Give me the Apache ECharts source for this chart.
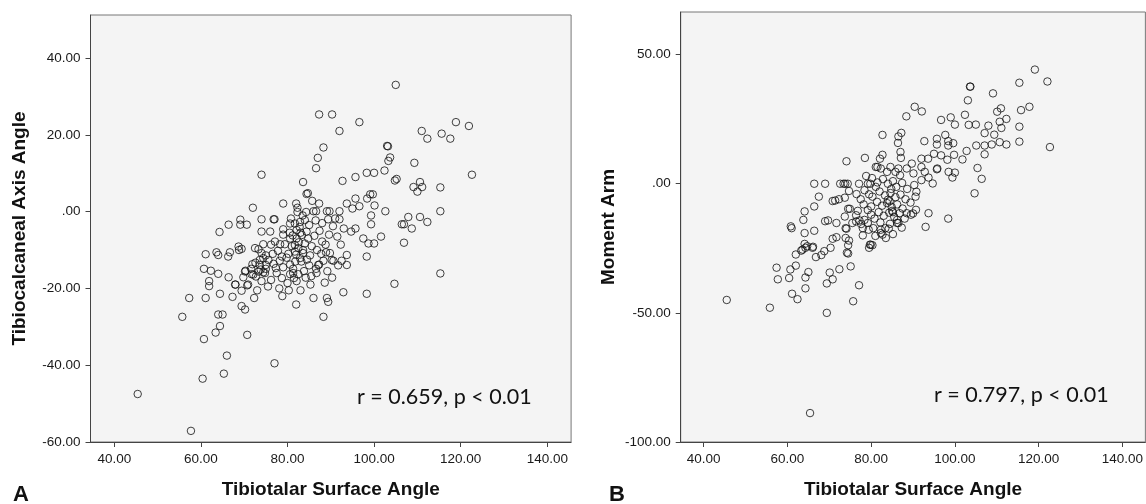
<!DOCTYPE html>
<html>
<head>
<meta charset="utf-8">
<script src="https://cdn.jsdelivr.net/npm/echarts@6/dist/echarts.min.js"></script>
<style>
	html, body { margin: 0; padding: 0; background: #fff; }
	#chart_box { width: 1146px; height: 504px; }
</style>
</head>
<body>
<div id="chart_box"></div>
<script>
/* A: Tibiotalar Surface Angle vs Tibiocalcaneal Axis Angle */
var pointsA = [
	[45.4,-47.5],[57.7,-57.1],[55.7,-27.4],[57.3,-22.5],[60.4,-43.5],[60.7,-33.2],[61.1,-22.5],[64.0,-26.8],
	[65.0,-26.8],[64.4,-29.8],[63.4,-31.5],[66.0,-37.5],[65.3,-42.2],[70.7,-32.1],[77.0,-39.5],[64.4,-21.4],
	[61.9,-18.1],[61.9,-19.4],[60.7,-14.9],[62.3,-15.4],[64.0,-16.2],[66.4,-17.1],[61.1,-11.1],[63.6,-10.6],
	[64.0,-11.3],[66.7,-10.6],[66.3,-11.7],[68.8,-10.0],[67.3,-22.2],[69.4,-20.6],[70.7,-19.2],[68.0,-19.0],
	[69.8,-17.1],[69.4,-24.6],[70.2,-25.5],[72.3,-22.5],[70.3,-15.4],[71.6,-14.9],[71.9,-13.7],[71.7,-16.3],
	[72.7,-16.9],[73.8,-15.1],[74.0,-18.1],[74.8,-16.0],[75.0,-14.9],[73.6,-12.6],[74.4,-12.1],[75.6,-12.6],
	[75.0,-11.4],[74.0,-10.8],[73.3,-9.8],[72.5,-9.5],[74.4,-8.5],[77.1,-7.8],[78.3,-8.5],[79.4,-8.5],
	[73.6,-13.9],[75.0,-13.9],[74.4,-15.8],[73.3,-15.6],[72.1,-16.4],[70.2,-15.6],[70.9,-19.0],[67.9,-19.0],
	[78.1,-20.0],[78.7,-17.3],[80.3,-20.5],[82.0,-24.2],[80.6,-13.8],[81.3,-16.0],[82.1,-18.1],[77.3,-14.7],
	[79.0,-14.5],[80.6,-16.3],[82.5,-16.3],[81.3,-14.9],[82.9,-12.1],[83.6,-10.8],[81.7,-10.4],[79.8,-12.0],
	[78.7,-11.7],[80.6,-7.0],[82.1,-7.0],[83.3,-6.1],[84.4,-5.2],[84.8,-7.0],[81.7,-8.7],[82.5,-9.5],
	[84.0,-8.3],[74.0,9.6],[72.0,1.0],[79.0,2.1],[82.0,2.1],[82.3,1.0],[82.3,-0.1],[69.1,-2.1],
	[69.1,-3.4],[70.6,-3.4],[66.4,-3.4],[64.3,-5.3],[74.0,-2.0],[76.8,-2.0],[77.0,-2.0],[74.0,-5.2],
	[76.0,-5.2],[79.0,-4.6],[80.6,-3.1],[81.7,-3.1],[82.1,-4.8],[82.9,-2.7],[84.0,-2.2],[84.3,-0.1],
	[68.7,-9.1],[69.4,-9.7],[105.0,33.0],[87.3,25.3],[90.3,25.3],[96.6,23.3],[92.0,21.0],[118.9,23.3],
	[121.9,22.3],[111.0,21.0],[112.3,19.0],[115.6,20.3],[117.6,19.0],[88.3,16.7],[103.0,17.1],[103.2,17.0],
	[103.7,14.1],[103.3,13.2],[87.0,14.0],[86.6,11.3],[109.3,12.7],[122.6,9.6],[83.6,7.7],[92.7,8.0],
	[95.7,9.0],[98.3,10.1],[100.0,10.1],[102.4,10.7],[105.2,8.5],[104.8,8.1],[110.6,7.7],[109.1,6.4],
	[110.0,5.2],[111.1,6.4],[115.3,6.3],[84.7,4.8],[85.7,2.8],[87.3,2.1],[99.1,4.5],[99.7,4.5],
	[98.4,3.4],[100.1,1.6],[95.7,3.4],[96.6,1.4],[95.0,0.8],[93.7,2.1],[92.0,0.1],[89.7,0.1],
	[89.1,0.1],[86.0,0.1],[86.6,0.1],[84.4,4.6],[99.3,-1.0],[99.3,-3.3],[102.6,0.1],[107.9,-1.4],
	[106.4,-3.3],[106.9,-3.3],[108.7,-4.4],[110.6,-1.4],[112.3,-2.7],[115.3,0.1],[91.0,-1.8],[92.0,-2.0],
	[89.4,-2.0],[94.7,-5.2],[95.7,-4.4],[97.5,-7.0],[98.7,-8.3],[100.0,-8.3],[101.6,-6.5],[106.9,-8.1],
	[98.3,-11.7],[115.3,-16.1],[104.7,-18.8],[98.3,-21.4],[92.9,-21.0],[89.1,-22.5],[89.4,-23.5],[86.0,-22.5],
	[88.3,-27.4],[93.7,-11.3],[92.5,-12.8],[91.7,-14.0],[90.6,-12.8],[89.8,-10.8],[88.9,-10.6],[88.3,-12.8],
	[87.3,-13.8],[86.6,-14.9],[86.7,-16.0],[85.2,-11.4],[83.6,-10.0],[93.7,-13.9],[90.2,-12.6],[87.1,-13.9],
	[80.5,-5.5],[81.2,-6.2],[82.8,-4.0],[83.0,-5.5],[81.0,-9.0],[82.0,-11.2],[83.2,-13.0],[84.5,-12.5],
	[85.0,-14.0],[83.8,-15.5],[84.2,-17.2],[85.5,-16.8],[81.8,-13.0],[80.2,-11.0],[85.6,-9.0],[86.2,-6.3],
	[87.4,-5.0],[88.0,-7.8],[86.8,-10.0],[87.8,-11.0],[85.0,-3.5],[86.5,-2.3],[88.0,-3.0],[80.8,-1.8],
	[83.5,-1.0],[85.3,-19.0],[83.0,-20.5],[82.6,-8.0],[81.5,-17.3],[80.0,-18.6],[79.0,-6.0],[77.8,-10.2],
	[78.2,-12.8],[76.6,-11.0],[76.2,-8.6],[76.8,-13.6],[77.5,-16.0],[76.2,-17.8],[75.5,-19.5],[78.8,-22.0],
	[73.0,-20.5],[72.6,-13.3],[88.8,-8.6],[89.6,-6.0],[90.5,-3.8],[91.5,-6.5],[92.3,-8.6],[93.0,-4.4],
	[89.2,-15.5],[90.3,-17.2],[88.6,-18.5]
];
/* B: Tibiotalar Surface Angle vs Moment Arm */
var pointsB = [
	[45.5,-45],[55.8,-48],[65.4,-88.8],[69.4,-50],[57.4,-32.5],[57.7,-37],[60.7,-33.2],[60.4,-36.5],
	[62,-31.7],[62,-27.4],[61.1,-42.6],[62.4,-44.7],[64.3,-36.3],[64.3,-40.5],[65,-34.2],[64.3,-24.8],
	[63.3,-25.9],[66,-24.8],[66.8,-28.4],[68.1,-27.6],[68.8,-26.1],[70.3,-24.8],[70.1,-34.4],[70.8,-37],
	[69.4,-38.6],[72.4,-33.1],[74.5,-27],[75.1,-32],[75.7,-45.5],[77.1,-39.3],[79.5,-24.8],[79.7,-23.6],
	[80.3,-23.8],[74.5,-23.8],[74.2,-26.7],[74.1,8.7],[78.5,10],[81.1,6.5],[66.4,0],[69,0],
	[72.6,0],[73.4,0],[73.8,0],[74.4,0],[77.1,0],[79.2,0],[79.8,0],[74.7,-2.8],
	[78.4,-2.5],[79.5,-4.1],[80.3,-5],[81.1,-1.2],[73.7,-5.4],[72.3,-6],[71.4,-6.5],[70.8,-6.7],
	[67.5,-5],[66.4,-8.8],[64.1,-10.7],[63.8,-14],[60.8,-16.5],[61.0,-17.2],[64.1,-19.1],[66.4,-18.2],
	[69.0,-14.5],[69.7,-14.2],[71.7,-15.2],[73.9,-17.2],[74.5,-9.7],[74.9,-9.7],[73.7,-12.7],[76.8,-10.5],
	[76.4,-12.2],[77.2,-14.2],[75.5,-15.2],[78.0,-17.2],[79.4,-17.8],[80.5,-17.2],[76.4,-14.6],[77.6,-15.6],
	[78.4,-14.0],[79.2,-15.2],[74.1,-17.4],[73.9,-21],[74.7,-22],[71.7,-20.7],[70.8,-21.3],[64.1,-23.3],
	[64.7,-24.2],[63.6,-25.5],[66.1,-24.4],[119.1,44.2],[115.4,39.1],[122.1,39.6],[103.6,37.6],[103.7,37.6],
	[103.1,32.3],[109.1,35],[90.4,29.8],[92.1,28],[88.4,26.1],[96.7,24.7],[99,25.7],[100,22.9],
	[102.4,26.7],[103.3,22.8],[105,22.9],[108,22.5],[110.1,27.9],[111,29.2],[112.3,25.1],[110.7,24],
	[111.1,21.6],[115.8,28.5],[117.8,29.8],[115.4,22.1],[115.4,16.3],[122.7,14.2],[107.1,19.6],[109.4,19],
	[108.8,15.2],[110.7,16.1],[112.3,15.2],[107.1,14.8],[107.1,11.4],[105.1,14.8],[102.8,12.7],[101.8,9.4],
	[105.4,6.1],[106.4,1.9],[104.7,-3.7],[82.7,18.9],[86.5,18.3],[87.2,19.7],[86.4,15.8],[92.7,16.5],
	[95.7,17.4],[95.7,15.2],[97.7,18.9],[98.4,16.5],[99.6,15.7],[98.4,14.8],[87,12.3],[87.1,10],
	[82.7,11.2],[82.1,9.7],[95,11.6],[96.7,11],[98.2,9.3],[99.8,11.2],[95.7,5.6],[98.5,4.6],
	[100,4.3],[99.4,2.4],[93.7,2.4],[94.7,0.1],[92,1.4],[90.1,4],[90.3,-0.5],[90.8,-3.1],
	[90.6,-5],[93.7,-11.4],[93,-16.7],[98.4,-13.5],[90.7,-10.1],[89.5,-12],[90.0,-11.5],[89.7,7.8],
	[92,9.7],[93.6,9.7],[92,6.5],[92.8,4.6],[88.5,5.9],[86.5,5.9],[85.8,4.6],[86.9,3.3],
	[84.6,6.5],[83.8,4.6],[82.3,5.9],[81.5,6.5],[95.8,5.9],[88.5,-11.4],[82.3,-17.8],[82.3,-19.1],
	[82.7,-19.7],[83.4,-17.2],[84.2,-17.4],[86.2,-15.2],[86.5,-15.2],[86.2,-14],[79.9,-23.6],[78.8,3.0],
	[80.2,2.2],[81.5,0.5],[82.8,1.8],[84.0,0.0],[85.2,1.0],[86.0,-1.2],[87.4,0.3],[88.6,-2.0],
	[82.0,-3.0],[83.3,-4.5],[84.6,-3.6],[85.8,-5.2],[87.0,-4.2],[88.2,-6.0],[89.4,-7.3],[81.4,-7.0],
	[82.6,-8.5],[83.8,-7.5],[84.9,-9.0],[86.2,-8.0],[87.5,-9.6],[81.8,-11.0],[83.0,-12.4],[84.3,-11.2],
	[85.5,-12.8],[86.8,-11.4],[88.0,-13.5],[80.8,-13.5],[82.2,-15.0],[84.5,-15.5],[87.3,-17.0],[85.2,-19.5],
	[83.5,-21.0],[81.0,-20.2],[84.0,-6.2],[84.4,-6.8],[84.8,-2.0],[85.0,-10.5],[85.2,-11.0],[80.0,-8.8],
	[79.2,-10.2],[78.2,-8.0],[77.5,-6.0],[76.5,-4.0],[78.0,-20.0],[80.0,-12.0]
];
var xTicks = [40, 60, 80, 100, 120, 140];
var yTicksA = [-60, -40, -20, 0, 20, 40];
var yTicksB = [-100, -50, 0, 50];
var noteA = 'r = 0.659, p < 0.01';
var noteB = 'r = 0.797, p < 0.01';

// SPSS style number: 0 -> ".00"
function fmt(v) {
	return v === 0 ? '.00' : v.toFixed(2);
}

var titleStyle = { fontFamily: 'Liberation Sans', fontWeight: 'bold', fontSize: 19, color: '#111' };
var labelStyle = { formatter: fmt, margin: 10, fontFamily: 'Liberation Sans', fontSize: 13.5, color: '#1a1a1a' };

function makeX(idx) {
	return {
		type: 'value', gridIndex: idx, min: 34.5, max: 145.5,
		name: 'Tibiotalar Surface Angle', nameLocation: 'middle', nameGap: 38,
		nameTextStyle: titleStyle,
		axisLine: { onZero: false, lineStyle: { color: '#444', width: 1 } },
		axisTick: { customValues: xTicks, length: 5, lineStyle: { color: '#444' } },
		axisLabel: Object.assign({ customValues: xTicks }, labelStyle),
		splitLine: { show: false }
	};
}

function makeY(idx, name, min, max, ticks, gap) {
	return {
		type: 'value', gridIndex: idx, min: min, max: max,
		name: name, nameLocation: 'middle', nameGap: gap,
		nameTextStyle: titleStyle,
		axisLine: { onZero: false, lineStyle: { color: '#444', width: 1 } },
		axisTick: { customValues: ticks, length: 5, lineStyle: { color: '#444' } },
		axisLabel: Object.assign({ customValues: ticks }, labelStyle),
		splitLine: { show: false }
	};
}

function makeSeries(idx, data) {
	return {
		type: 'scatter', xAxisIndex: idx, yAxisIndex: idx, data: data,
		symbol: 'circle', symbolSize: 7.5, silent: true,
		itemStyle: { color: 'rgba(0,0,0,0)', borderColor: '#111', borderWidth: 1 }
	};
}

var myChart = echarts.init(document.getElementById('chart_box'));
var option = {
	animation: false,
	backgroundColor: '#fff',
	grid: [
		{ left: 90.5, top: 15, width: 480.6, height: 431, show: true, backgroundColor: '#f4f4f4', borderColor: '#777', borderWidth: 1 },
		{ left: 680.7, top: 12, width: 474.8, height: 434, show: true, backgroundColor: '#f4f4f4', borderColor: '#777', borderWidth: 1 }
	],
	xAxis: [makeX(0), makeX(1)],
	yAxis: [
		makeY(0, 'Tibiocalcaneal Axis Angle', -60, 51.2, yTicksA, 61),
		makeY(1, 'Moment Arm', -100, 66.5, yTicksB, 62)
	],
	series: [makeSeries(0, pointsA), makeSeries(1, pointsB)],
	graphic: [
		{ type: 'text', x: 357, y: 397, style: { text: noteA, font: '21.5px Lato', fill: '#111', verticalAlign: 'middle' } },
		{ type: 'text', x: 934, y: 395, style: { text: noteB, font: '21.5px Lato', fill: '#111', verticalAlign: 'middle' } },
		{ type: 'text', x: 13, y: 495, style: { text: 'A', font: 'bold 22px "Liberation Sans"', fill: '#111', verticalAlign: 'middle' } },
		{ type: 'text', x: 609, y: 495, style: { text: 'B', font: 'bold 22px "Liberation Sans"', fill: '#111', verticalAlign: 'middle' } }
	]
};
myChart.setOption(option);
</script>
</body>
</html>
